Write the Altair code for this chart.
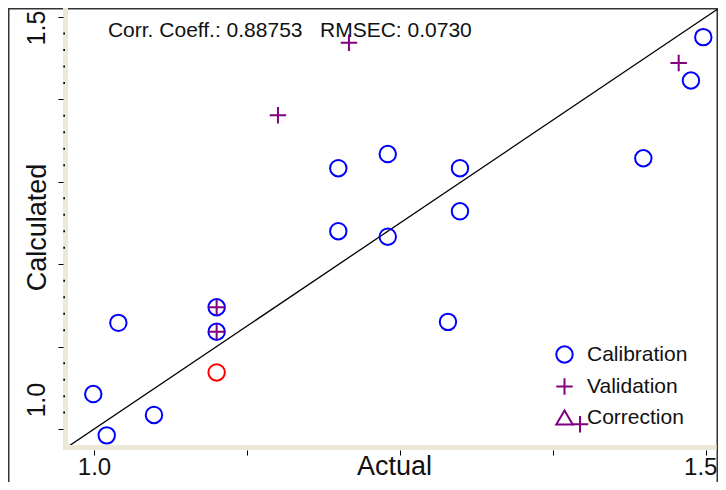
import altair as alt
import pandas as pd

# ---- data ----
cal_x = [0.9994, 1.0104, 1.0199, 1.0490, 1.1002, 1.1002, 1.1996, 1.1996,
         1.2400, 1.2400, 1.2990, 1.2990, 1.2892, 1.4488, 1.4877, 1.4978]
cal_y = [1.0425, 0.9924, 1.1289, 1.0172, 1.1478, 1.1181, 1.3165, 1.2401,
         1.3337, 1.2334, 1.3165, 1.2642, 1.1301, 1.3286, 1.4229, 1.4755]
val_x = [1.1002, 1.1002, 1.1503, 1.2083, 1.4777, 1.3971]
val_y = [1.1478, 1.1181, 1.3807, 1.4687, 1.4442, 1.0060]
sel_x = [1.1002]
sel_y = [1.0687]
series_names = ["Calibration", "Validation", "Correction"]
series_colors = ["#0000FF", "#800080", "#800080"]
series_shapes = ["circle", "M-1,0L1,0M0,-1L0,1", "triangle-up"]
x_ticks = [1.0, 1.125, 1.25, 1.375, 1.5]
y_ticks = [1.0, 1.1, 1.2, 1.3, 1.4, 1.5]
y_minor = [1.02, 1.04, 1.06, 1.08, 1.12, 1.14, 1.16, 1.18, 1.22, 1.24, 1.26, 1.28,
           1.32, 1.34, 1.36, 1.38, 1.42, 1.44, 1.46, 1.48]
diag = [0.979, 1.509]
annotation = "Corr. Coeff.: 0.88753\u00a0\u00a0\u00a0RMSEC: 0.0730"
annot_x = [1.0114]
annot_y = [1.4759]
x_domain = [0.97876, 1.509]
y_domain = [0.98072, 1.51084]

FONT = "Liberation Sans"
BAND = "#ECE9D8"
W, H = 649, 437

pts = pd.DataFrame({
    "x": cal_x + val_x,
    "y": cal_y + val_y,
    "series": ["Calibration"] * len(cal_x) + ["Validation"] * len(val_x),
})
sel = pd.DataFrame({"x": sel_x, "y": sel_y})
one = pd.DataFrame({"a": [0]})

xs = alt.Scale(domain=x_domain, nice=False, zero=False)
ys = alt.Scale(domain=y_domain, nice=False, zero=False)

LBL = "(datum.value == 1 || datum.value == 1.5) ? format(datum.value, '.1f') : ''"
x_axis = alt.Axis(
    values=x_ticks, labelExpr=LBL,
    orient="bottom", offset=5, domain=False, grid=False, tickSize=5, tickWidth=1, tickColor="#000",
    labelFont=FONT, labelFontSize=24, labelColor="#111", labelPadding=0, labelBaseline="top",
    labelAlign={"condition": {"test": "datum.value == 1.5", "value": "right"}, "value": "center"},
    labelOffset={"condition": {"test": "datum.value == 1.5", "value": 11}, "value": 0},
    labelFlush=False, labelOverlap=False,
    title="Actual", titleFont=FONT, titleFontSize=27, titleFontWeight="normal", titleColor="#111",
    titleX=326, titleY=24, titleAlign="center", titleBaseline="alphabetic", zindex=1,
)
y_axis = alt.Axis(
    values=y_ticks, labelExpr=LBL,
    orient="left", offset=5, domain=False, grid=False, tickSize=5, tickWidth=1, tickColor="#000",
    labelFont=FONT, labelFontSize=25, labelColor="#111", labelPadding=14, labelAngle=270,
    labelAlign="left", labelBaseline="alphabetic", labelFlush=False, labelOverlap=False,
    labelOffset={"condition": {"test": "datum.value == 1", "value": -12}, "value": 28},
    title="Calculated", titleFont=FONT, titleFontSize=27, titleFontWeight="normal", titleColor="#111",
    titleAngle=270, titleX=-18, titleY=219, titleAlign="center", titleBaseline="alphabetic", zindex=1,
)

X = lambda f: alt.X(f, scale=xs, axis=x_axis)
Y = lambda f: alt.Y(f, scale=ys, axis=y_axis)

frame = alt.Chart(one).mark_rect(fill="white", stroke="#333333", strokeWidth=1.5).encode(
    x=alt.value(-59.25), x2=alt.value(W + 0.25), y=alt.value(0.75), y2=alt.value(560))
band_left = alt.Chart(one).mark_rect(fill=BAND).encode(
    x=alt.value(-5), x2=alt.value(0), y=alt.value(0), y2=alt.value(H + 5))
band_bottom = alt.Chart(one).mark_rect(fill=BAND).encode(
    x=alt.value(-5), x2=alt.value(W - 0.5), y=alt.value(H), y2=alt.value(H + 5))

minor = alt.Chart(pd.DataFrame({"m": y_minor})).mark_rule(color="#000", strokeWidth=2).encode(
    y=Y("m:Q"), x=alt.value(-4.7), x2=alt.value(-3))

line = alt.Chart(pd.DataFrame({"v": diag})).mark_line(color="#000", strokeWidth=1.3, clip=True).encode(
    x=X("v:Q"), y=Y("v:Q"))

legend = alt.Legend(title=None, orient="none", legendX=486, legendY=336)
points = alt.Chart(pts).mark_point(filled=False, size=270, strokeWidth=2, opacity=1).encode(
    x=X("x:Q"),
    y=Y("y:Q"),
    color=alt.Color("series:N", scale=alt.Scale(domain=series_names, range=series_colors), legend=legend),
    shape=alt.Shape("series:N", scale=alt.Scale(domain=series_names, range=series_shapes), legend=legend),
)
selected = alt.Chart(sel).mark_point(shape="circle", filled=False, size=270, strokeWidth=2,
                                     color="#FF0000", opacity=1).encode(
    x=X("x:Q"), y=Y("y:Q"))

text = alt.Chart(pd.DataFrame({"x": annot_x, "y": annot_y, "t": [annotation]})).mark_text(
    align="left", baseline="alphabetic", font=FONT, fontSize=21, color="#111").encode(
    x=X("x:Q"), y=Y("y:Q"), text="t:N")

chart = alt.layer(frame, band_left, band_bottom, minor, line, selected, points, text).properties(
    width=W, height=H,
    autosize=alt.AutoSizeParams(type="none"),
    padding={"left": 60, "top": 0, "right": 1, "bottom": 474 - H},
    background="white",
).configure_view(stroke=None, fill=None).configure_legend(
    labelFont=FONT, labelFontSize=21, labelColor="#111", symbolSize=270, symbolStrokeWidth=2,
    rowPadding=7, labelOffset=12, padding=0, labelLimit=300,
)

chart.save("out.html", embed_options={"renderer": "svg", "actions": False})
